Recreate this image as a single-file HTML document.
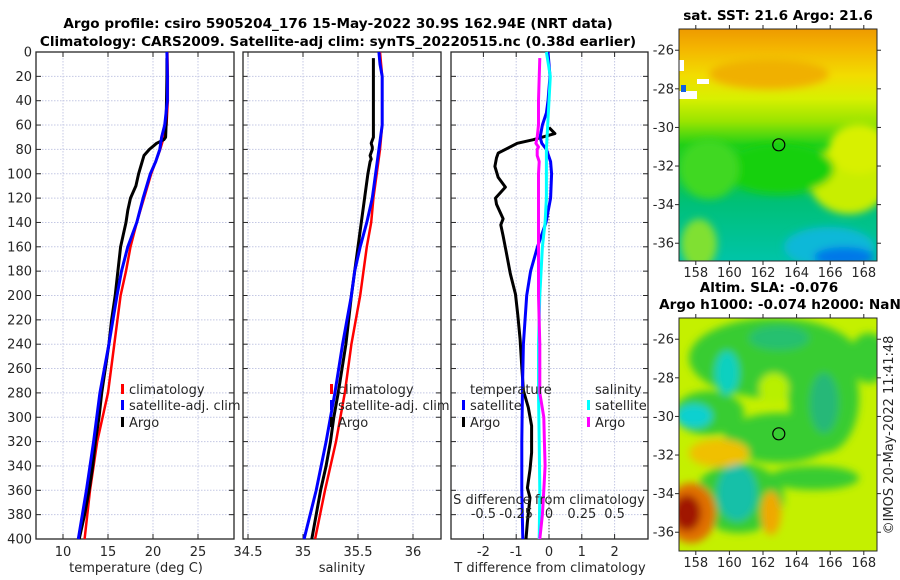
<!DOCTYPE html>
<html><head><meta charset="utf-8">
<style>
html,body{margin:0;padding:0;background:#fff;}
svg{display:block;font-family:"DejaVu Sans","Liberation Sans",sans-serif;}
.t{font-size:13px;fill:#262626;}
.b{font-size:13.6px;font-weight:bold;fill:#000;}
</style></head>
<body>
<svg id="fig" width="900" height="580" viewBox="0 0 900 580" xmlns="http://www.w3.org/2000/svg">
<defs>
<filter id="blur" x="-20%" y="-20%" width="140%" height="140%"><feGaussianBlur stdDeviation="4"/></filter>
<clipPath id="clipTop"><rect x="679" y="29" width="198" height="232"/></clipPath>
<clipPath id="clipBot"><rect x="679" y="318" width="198" height="233"/></clipPath>
<linearGradient id="sstGrad" x1="0" y1="0" x2="0" y2="1">
<stop offset="0" stop-color="#ee9a00"/><stop offset="0.08" stop-color="#f4b400"/>
<stop offset="0.2" stop-color="#f2dc00"/><stop offset="0.3" stop-color="#d8f000"/>
<stop offset="0.4" stop-color="#98e400"/><stop offset="0.5" stop-color="#20d018"/>
<stop offset="0.62" stop-color="#10c840"/><stop offset="0.75" stop-color="#00c078"/>
<stop offset="1" stop-color="#00c4a8"/>
</linearGradient>
</defs>
<text class="b" x="338" y="28" text-anchor="middle">Argo profile: csiro 5905204_176 15-May-2022 30.9S 162.94E (NRT data)</text>
<text class="b" x="338" y="46" text-anchor="middle">Climatology: CARS2009. Satellite-adj clim: synTS_20220515.nc (0.38d earlier)</text>
<g id="plots"></g>
<g id="maps"></g>
</svg>
<script>
// ---------- data ----------
const depthTicks = [0,20,40,60,80,100,120,140,160,180,200,220,240,260,280,300,320,340,360,380,400];
const tempTicks = [10,15,20,25];
const salTicks = [34.5,35,35.5,36];
const salTickLabels = ["34.5","35","35.5","36"];
const tdiffTicks = [-2,-1,0,1,2];
const sdiffTickVals = [-0.5,-0.25,0,0.25,0.5];
const sdiffTickLabels = ["-0.5","-0.25","0","0.25","0.5"];

const tempDepth = [0,20,40,60,70,80,90,100,120,140,160,180,200,240,280,320,360,400];
const tempClim = [21.6,21.65,21.65,21.5,21.2,20.8,20.3,19.8,19.0,18.2,17.5,17.0,16.4,15.7,15.0,13.8,13.0,12.4];
const tempSat = [21.55,21.6,21.6,21.3,20.95,20.75,20.3,19.7,18.9,18.2,17.2,16.5,16.0,15.1,14.1,13.4,12.6,11.7];
const argoDepth = [5,20,40,60,70,72,75,80,85,90,100,110,120,130,140,150,160,180,200,220,240,260,280,300,320,340,360,380,400];
const argoTemp = [21.55,21.55,21.5,21.45,21.4,21.2,20.4,19.6,19.0,18.8,18.4,18.1,17.5,17.2,17.0,16.7,16.4,16.1,15.8,15.4,15.1,14.7,14.3,14.0,13.6,13.3,12.9,12.4,11.8];

const salDepth = [0,10,20,40,60,80,100,120,140,160,180,200,240,280,320,360,400];
const salClim = [35.70,35.71,35.72,35.72,35.72,35.70,35.67,35.64,35.62,35.58,35.55,35.52,35.44,35.38,35.30,35.20,35.11];
const salSat = [35.69,35.70,35.72,35.72,35.72,35.69,35.66,35.63,35.58,35.52,35.47,35.44,35.36,35.29,35.21,35.12,35.01];
const argoSalDepth = [5,20,40,60,70,75,78,80,85,88,90,100,120,140,160,180,200,240,280,300,320,340,360,400];
const argoSal = [35.64,35.64,35.64,35.64,35.64,35.62,35.63,35.63,35.61,35.62,35.61,35.59,35.56,35.53,35.50,35.47,35.44,35.39,35.32,35.28,35.25,35.21,35.16,35.08];

const satSDiffDepth = [0,20,40,60,80,100,120,140,160,200,240,280,320,360,400];
const satSDiff = [-0.02,0.01,0.0,-0.01,-0.02,-0.02,-0.02,-0.03,-0.05,-0.07,-0.08,-0.08,-0.075,-0.07,-0.075];
const argoSDiffDepth = [5,40,60,70,75,78,80,85,90,100,150,200,240,280,300,320,340,360,380,400];
const argoSDiff = [-0.07,-0.08,-0.08,-0.09,-0.1,-0.08,-0.09,-0.09,-0.075,-0.08,-0.08,-0.08,-0.07,-0.07,-0.04,-0.035,-0.03,-0.04,-0.05,-0.07];
const satTDiffDepth = [0,20,40,50,60,70,75,80,90,100,120,140,160,180,200,240,280,320,360,400];
const satTDiff = [-0.03,0.03,-0.03,-0.08,-0.2,-0.27,-0.22,-0.08,0.05,0.08,0.05,-0.09,-0.35,-0.56,-0.68,-0.78,-0.81,-0.83,-0.83,-0.8];
const argoTDiffDepth = [62,67,72,75,83,87,94,103,111,120,125,137,142,151,165,182,199,216,236,259,278,292,307,329,343,358,366,386,400];
const argoTDiff = [0.0,0.18,-0.48,-0.97,-1.55,-1.6,-1.65,-1.55,-1.33,-1.63,-1.6,-1.4,-1.47,-1.4,-1.3,-1.18,-1.02,-0.95,-0.88,-0.83,-0.78,-0.63,-0.53,-0.53,-0.58,-0.66,-0.58,-0.66,-0.7];

const mapLonTicks = [158,160,162,164,166,168];
const mapLatTicks = [-26,-28,-30,-32,-34,-36];
const argoLon = 162.94;
const argoLat = -30.9;

// ---------- helpers ----------
const NS = "http://www.w3.org/2000/svg";
const plots = document.getElementById("plots");
const maps = document.getElementById("maps");
function mk(tag, attrs, parent){
  const e = document.createElementNS(NS, tag);
  for (const k in attrs) e.setAttribute(k, attrs[k]);
  parent.appendChild(e);
  return e;
}
const Y0 = 52, Y1 = 539;
function yDepth(d){ return Y0 + d*(Y1-Y0)/400; }

function axesFrame(x0, x1, xTickPos, name){
  const g = mk("g", {}, plots);
  
  
  depthTicks.forEach(d => {
    const y = yDepth(d);
    if (d>0 && d<400) {
      const gl = mk("line", {x1:x0, x2:x1, y1:y, y2:y, stroke:"#c4c8e4", "stroke-width":1, "stroke-dasharray":"1.5,1.5"}, g);
      
      
    }
    mk("line", {x1:x0, x2:x0+5, y1:y, y2:y, stroke:"#262626", "stroke-width":1}, g);
    mk("line", {x1:x1-5, x2:x1, y1:y, y2:y, stroke:"#262626", "stroke-width":1}, g);
  });
  xTickPos.forEach(x => {
    const gl = mk("line", {x1:x, x2:x, y1:Y0, y2:Y1, stroke:"#c4c8e4", "stroke-width":1, "stroke-dasharray":"1.5,1.5"}, g);
    
    
    mk("line", {x1:x, x2:x, y1:Y1-5, y2:Y1, stroke:"#262626"}, g);
    mk("line", {x1:x, x2:x, y1:Y0, y2:Y0+5, stroke:"#262626"}, g);
  });
  const r = mk("rect", {x:x0, y:Y0, width:x1-x0, height:Y1-Y0, fill:"none", stroke:"#262626", "stroke-width":1.3}, g);
  
  
  return g;
}
function line(depths, vals, xf, color, w, name){
  const pts = depths.map((d,i) => xf(vals[i]).toFixed(1) + "," + yDepth(d).toFixed(1)).join(" ");
  const p = mk("polyline", {points:pts, fill:"none", stroke:color, "stroke-width":w, "stroke-linejoin":"round"}, plots);
  
  
}
function text(str, x, y, cls, anchor, parent, name){
  const t = mk("text", {x:x, y:y, class:cls, "text-anchor":anchor||"start"}, parent||plots);
  t.textContent = str;
  
  
  return t;
}
function legendItem(x, y, color, label, name){
  const r = mk("rect", {x:x, y:y-10, width:3, height:10, fill:color}, plots);
  
  
  text(label, x+8, y, "t", "start", plots, name);
}

// ---------- panel 1: temperature ----------
const tX = v => 63 + (v-10)*9;
axesFrame(36, 234, tempTicks.map(tX), "temperature-axes");
depthTicks.forEach(d => text(String(d), 32, yDepth(d)+4.5, "t", "end", plots, "depth-tick-label"));
tempTicks.forEach(v => text(String(v), tX(v), 556, "t", "middle", plots, "temperature-tick-label"));
text("temperature (deg C)", 136, 572, "t", "middle", plots, "temperature-axis-title");
line(tempDepth, tempClim, tX, "#ff0000", 2.5, "temperature-climatology-line");
line(argoDepth, argoTemp, tX, "#000000", 3, "temperature-argo-line");
line(tempDepth, tempSat, tX, "#0000ff", 3, "temperature-satellite-line");
legendItem(121, 394, "#ff0000", "climatology", "legend-climatology");
legendItem(121, 410, "#0000ff", "satellite-adj. clim", "legend-satellite-adj");
legendItem(121, 427, "#000000", "Argo", "legend-argo");

// ---------- panel 2: salinity ----------
const sX = v => 303 + (v-35)*110;
axesFrame(243, 441, salTicks.map(sX), "salinity-axes");
salTicks.forEach((v,i) => text(salTickLabels[i], sX(v), 556, "t", "middle", plots, "salinity-tick-label"));
text("salinity", 342, 572, "t", "middle", plots, "salinity-axis-title");
line(salDepth, salClim, sX, "#ff0000", 2.5, "salinity-climatology-line");
line(argoSalDepth, argoSal, sX, "#000000", 3, "salinity-argo-line");
line(salDepth, salSat, sX, "#0000ff", 3, "salinity-satellite-line");
legendItem(330, 394, "#ff0000", "climatology", "legend-climatology-sal");
legendItem(330, 410, "#0000ff", "satellite-adj. clim", "legend-satellite-adj-sal");
legendItem(330, 427, "#000000", "Argo", "legend-argo-sal");

// ---------- panel 3: differences ----------
const dX = v => 549 + v*32.8;
const dsX = v => 549 + v*131.2;
axesFrame(451, 648, tdiffTicks.map(dX), "difference-axes");
const zl = mk("line", {x1:549, x2:549, y1:yDepth(120), y2:Y1, stroke:"#333", "stroke-width":1, "stroke-dasharray":"1,2"}, plots);


tdiffTicks.forEach(v => text(String(v), dX(v), 556, "t", "middle", plots, "tdiff-tick-label"));
text("T difference from climatology", 550, 572, "t", "middle", plots, "tdiff-axis-title");
line(argoTDiffDepth, argoTDiff, dX, "#000000", 3, "tdiff-argo-line");
line(satTDiffDepth, satTDiff, dX, "#0000ff", 3, "tdiff-satellite-line");
line(satSDiffDepth, satSDiff, dsX, "#00ffff", 3, "sdiff-satellite-line");
line(argoSDiffDepth, argoSDiff, dsX, "#ff00ff", 3, "sdiff-argo-line");
text("S difference from climatology", 549, 504, "t", "middle", plots, "sdiff-axis-title");
sdiffTickVals.forEach((v,i) => text(sdiffTickLabels[i], dsX(v), 518, "t", "middle", plots, "sdiff-tick-label"));
text("temperature", 470, 394, "t", "start", plots, "legend-temperature-heading");
legendItem(462, 410, "#0000ff", "satellite", "legend-tdiff-satellite");
legendItem(462, 427, "#000000", "Argo", "legend-tdiff-argo");
text("salinity", 595, 394, "t", "start", plots, "legend-salinity-heading");
legendItem(587, 410, "#00ffff", "satellite", "legend-sdiff-satellite");
legendItem(587, 427, "#ff00ff", "Argo", "legend-sdiff-argo");

// ---------- maps ----------
const MX0 = 679, MX1 = 877;
const lonX = lon => MX0 + (lon-157)*16.8;
function mapAxes(top, bottom, name){
  const latY = lat => top + (-24.9 - lat)*19.3;
  const g = mk("g", {}, maps);
  
  
  mapLatTicks.forEach(lat => {
    const y = latY(lat);
    mk("line", {x1:MX0-4, x2:MX0, y1:y, y2:y, stroke:"#262626"}, g);
    mk("line", {x1:MX1, x2:MX1+4, y1:y, y2:y, stroke:"#262626"}, g);
    text(String(lat), MX0-5, y+4.5, "t", "end", g, "map-lat-tick-label");
  });
  mapLonTicks.forEach(lon => {
    const x = lonX(lon);
    mk("line", {x1:x, x2:x, y1:bottom, y2:bottom+4, stroke:"#262626"}, g);
    mk("line", {x1:x, x2:x, y1:top-4, y2:top, stroke:"#262626"}, g);
    text(String(lon), x, bottom+16, "t", "middle", g, "map-lon-tick-label");
  });
  const r = mk("rect", {x:MX0, y:top, width:MX1-MX0, height:bottom-top, fill:"none", stroke:"#262626", "stroke-width":1}, g);
  
  
  const c = mk("circle", {cx:lonX(argoLon), cy:latY(argoLat), r:6, fill:"none", stroke:"#000", "stroke-width":1.2}, g);
  
  
}
function blob(parent, cx, cy, rx, ry, color){
  mk("ellipse", {cx:cx, cy:cy, rx:rx, ry:ry, fill:color}, parent);
}
// top SST map
const sst = mk("g", {"clip-path":"url(#clipTop)"}, maps);


mk("rect", {x:MX0, y:29, width:198, height:232, fill:"url(#sstGrad)"}, sst);
const sstB = mk("g", {filter:"url(#blur)"}, sst);
blob(sstB, MX0+170, 29+150, 40, 35, "#c8ee00");
blob(sstB, MX0+180, 29+120, 30, 25, "#d8f000");
blob(sstB, MX0+100, 29+140, 55, 25, "#18d010");
blob(sstB, MX0+30, 29+140, 30, 30, "#40d820");
blob(sstB, MX0+20, 29+215, 18, 25, "#80e030");
blob(sstB, MX0+150, 29+218, 45, 20, "#10b8d8");
blob(sstB, MX0+165, 29+228, 30, 10, "#0078e8");
blob(sstB, MX0+90, 29+45, 60, 15, "#f0b000");
mk("rect", {x:MX0, y:29+31, width:5, height:11, fill:"#fff"}, sst);
mk("rect", {x:MX0+18, y:29+50, width:12, height:5, fill:"#fff"}, sst);
mk("rect", {x:MX0, y:29+62, width:18, height:8, fill:"#fff"}, sst);
mk("rect", {x:MX0+2, y:29+56, width:5, height:7, fill:"#1060e0"}, sst);
mapAxes(29, 261, "sst-map");
text("sat. SST: 21.6 Argo: 21.6", 778, 20, "b", "middle", maps, "sst-map-title");

// bottom SLA map
const sla = mk("g", {"clip-path":"url(#clipBot)"}, maps);


mk("rect", {x:MX0, y:318, width:198, height:233, fill:"#c4f000"}, sla);
const slaB = mk("g", {filter:"url(#blur)"}, sla);
const B = 318;
blob(slaB, MX0+95, B+40, 85, 40, "#38cc30");
blob(slaB, MX0+30, B+95, 35, 22, "#38cc30");
blob(slaB, MX0+100, B+120, 55, 25, "#38cc30");
blob(slaB, MX0+145, B+80, 35, 55, "#38cc30");
blob(slaB, MX0+135, B+160, 45, 12, "#38cc30");
blob(slaB, MX0+60, B+180, 45, 35, "#38cc30");
blob(slaB, MX0+190, B+40, 20, 25, "#38cc30");
blob(slaB, MX0+48, B+55, 12, 22, "#10d0c0");
blob(slaB, MX0+15, B+98, 18, 12, "#10d0d0");
blob(slaB, MX0+145, B+85, 14, 30, "#28b878");
blob(slaB, MX0+58, B+175, 20, 28, "#18c0a8");
blob(slaB, MX0+100, B+20, 30, 12, "#28c070");
blob(slaB, MX0+40, B+135, 30, 14, "#f0c000");
blob(slaB, MX0+12, B+195, 25, 30, "#e07000");
blob(slaB, MX0+8, B+195, 14, 18, "#a01800");
blob(slaB, MX0+92, B+195, 10, 22, "#f0a800");
blob(slaB, MX0+95, B+70, 15, 15, "#b8f000");
mapAxes(318, 551, "sla-map");
text("Altim. SLA: -0.076", 769, 292, "b", "middle", maps, "sla-map-title-line-1");
text("Argo h1000: -0.074 h2000: NaN", 780, 309, "b", "middle", maps, "sla-map-title-line-2");
const imos = text("©IMOS 20-May-2022 11:41:48", 0, 0, "t", "middle", maps, "imos-timestamp");
imos.setAttribute("transform", "translate(893,435) rotate(-90)");
</script>
</body></html>
